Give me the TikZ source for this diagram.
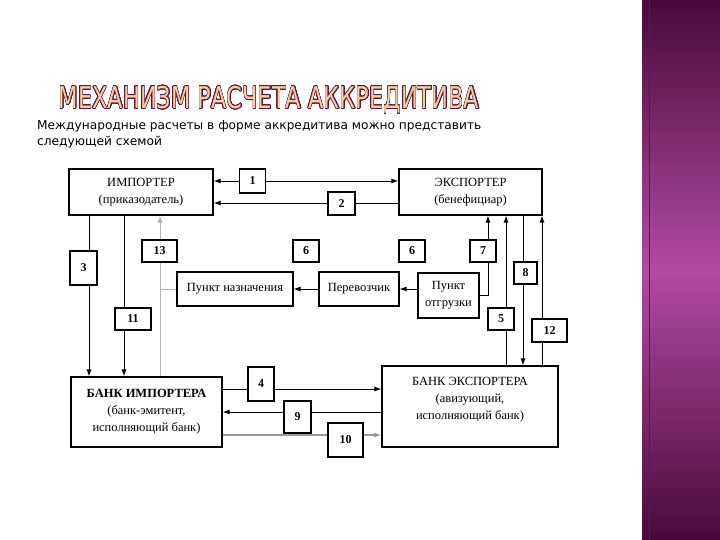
\documentclass[tikz,border=0pt]{standalone}
\usepackage{fontspec}
\usepackage{contour}
\usetikzlibrary{arrows.meta}
\setmainfont{Liberation Serif}
\newfontfamily\slidefont{DejaVu Sans}
\contourlength{0.6pt}
\contournumber{24}

\begin{document}
\begin{tikzpicture}[x=1pt,y=-1pt,>={Latex[length=7pt,width=5pt]},
    party/.style={draw,line width=1.2pt,fill=white,align=center,inner sep=0pt,
      font=\fontsize{12.5}{17}\selectfont},
    numbox/.style={draw,line width=1.1pt,fill=white,inner sep=0pt,
      font=\bfseries\fontsize{12}{14}\selectfont},
    wire/.style={line width=0.9pt}]
        % Define colors
        \definecolor{panedark}{RGB}{72,10,58}
        \definecolor{panelight}{RGB}{178,74,162}
        \definecolor{titlefill}{RGB}{248,206,158}
        \definecolor{titleline}{RGB}{92,22,62}

        % Page and side panel
        \useasboundingbox (0,0) rectangle (720,540);
        \fill[white] (0,0) rectangle (720,540);
        \shade[top color=panedark, bottom color=panedark, middle color=panelight]
            (642,0) rectangle (720,540);
        \draw[panedark!80!panelight, line width=1pt] (649,0) -- (649,540);

        % Title and intro
        \node (title) at (269,100) {\slidefont\fontsize{30}{30}\selectfont
            \scalebox{0.75}[1]{\textcolor{titlefill}{\contour{titleline}{МЕХАНИЗМ РАСЧЕТА АККРЕДИТИВА}}}};
        \node[anchor=north west, align=left, inner sep=0pt,
            font=\slidefont\fontsize{12.2}{16}\selectfont] (intro) at (37,120)
            {Международные расчеты в форме аккредитива можно представить\\следующей схемой};

        % Parties
        \node[party, minimum width=144pt, minimum height=46pt] (importer) at (141,192)
            {ИМПОРТЕР\\(приказодатель)};
        \node[party, minimum width=143pt, minimum height=46pt] (exporter) at (470.5,192)
            {ЭКСПОРТЕР\\(бенефициар)};
        \node[party, minimum width=151pt, minimum height=70pt] (bankimp) at (146.5,412)
            {\textbf{БАНК ИМПОРТЕРА}\\(банк-эмитент,\\исполняющий банк)};
        \node[party, minimum width=176pt, minimum height=81pt] (bankexp) at (470,406.5)
            {БАНК ЭКСПОРТЕРА\\(авизующий,\\исполняющий банк)\\ ~};
        \node[party, minimum width=116pt, minimum height=34pt] (dest) at (235,289)
            {Пункт назначения};
        \node[party, minimum width=80pt, minimum height=34pt] (carrier) at (359,289)
            {Перевозчик};
        \node[party, minimum width=61pt, minimum height=45pt] (ship) at (448.5,295.5)
            {Пункт\\отгрузки};

        % Wire columns and rows
        \coordinate (w1) at (0,181);
        \coordinate (w2) at (0,203);
        \coordinate (w4) at (0,389);
        \coordinate (w9) at (0,412);
        \coordinate (w10) at (0,435);
        \coordinate (w3) at (89,0);
        \coordinate (w11) at (124,0);
        \coordinate (w13) at (160,0);
        \coordinate (w7) at (488,0);
        \coordinate (w5) at (506,0);
        \coordinate (w8) at (523,0);
        \coordinate (w12) at (542,0);

        % Draw connectors
        \draw[wire, <->] (importer.east |- w1) -- (exporter.west |- w1);
        \draw[wire, ->] (exporter.west |- w2) -- (importer.east |- w2);
        \draw[wire, ->] (importer.south -| w3) -- (bankimp.north -| w3);
        \draw[wire, ->] (importer.south -| w11) -- (bankimp.north -| w11);
        \draw[wire, gray!60, ->] (bankimp.north -| w13) -- (importer.south -| w13);
        \draw[wire, gray!60] (dest.west) -- (dest.west -| w13);
        \draw[wire, ->] (carrier.west) -- (dest.east);
        \draw[wire, ->] (ship.west |- carrier.east) -- (carrier.east);
        \draw[wire, ->] (ship.east) -- (ship.east -| w7) -- (exporter.south -| w7);
        \draw[wire, ->] (bankexp.north -| w5) -- (exporter.south -| w5);
        \draw[wire, ->] (exporter.south -| w8) -- (bankexp.north -| w8);
        \draw[wire, ->] (bankexp.north -| w12) -- (exporter.south -| w12);
        \draw[wire, ->] (bankimp.east |- w4) -- (bankexp.west |- w4);
        \draw[wire, ->] (bankexp.west |- w9) -- (bankimp.east |- w9);
        \draw[line width=2pt, gray!80, ->] (bankimp.east |- w10) -- (bankexp.west |- w10);

        % Step numbers
        \foreach \name/\x/\y/\w/\h/\t in {n1/252.5/181/26/24/1, n2/341.5/203.5/27/23/2,
            n3/83.5/268/27/34/3, n11/133/319/36/22/11, n13/159.5/251/35/22/13,
            n6a/306/251/26/22/6, n6b/412/251/26/22/6, n7/483/251/26/22/7,
            n5/501/319/26/22/5, n8/525.5/273/23/22/8, n12/549.5/330.5/35/23/12,
            n4/261/384/26/34/4, n9/297.5/417/27/32/9, n10/345.5/440/35/34/10}
            \node[numbox, minimum width=\w pt, minimum height=\h pt] (\name) at (\x,\y) {\t};

    \end{tikzpicture}
\end{document}
